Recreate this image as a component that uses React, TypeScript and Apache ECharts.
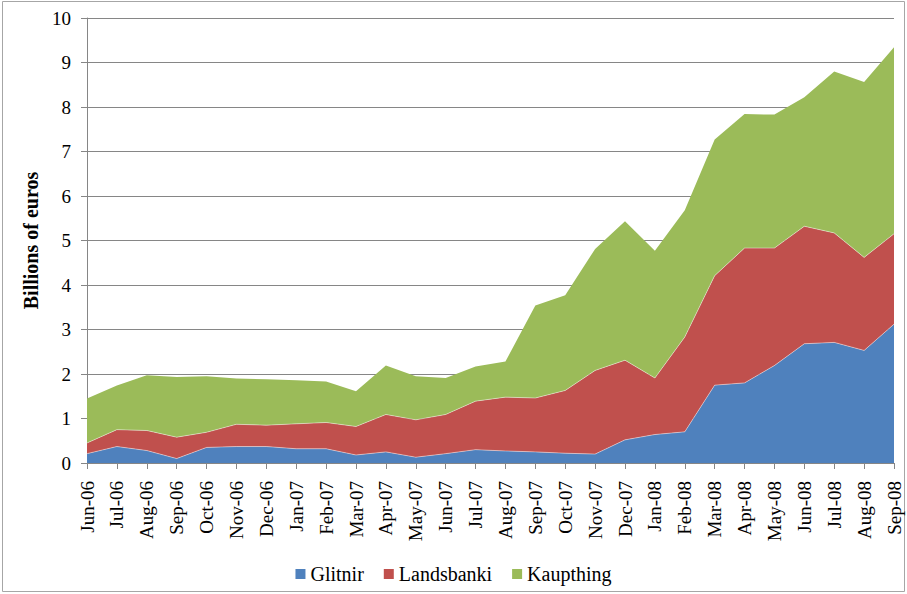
import React, { useEffect, useRef } from "react";
import * as echarts from "echarts";

const months = [
  "Jun-06", "Jul-06", "Aug-06", "Sep-06", "Oct-06", "Nov-06", "Dec-06",
  "Jan-07", "Feb-07", "Mar-07", "Apr-07", "May-07", "Jun-07", "Jul-07",
  "Aug-07", "Sep-07", "Oct-07", "Nov-07", "Dec-07", "Jan-08", "Feb-08",
  "Mar-08", "Apr-08", "May-08", "Jun-08", "Jul-08", "Aug-08", "Sep-08",
];

const glitnir = [
  0.21, 0.37, 0.28, 0.10, 0.35, 0.37, 0.37, 0.32, 0.32, 0.18, 0.25, 0.13, 0.21, 0.30,
  0.27, 0.25, 0.22, 0.20, 0.52, 0.64, 0.70, 1.75, 1.80, 2.19, 2.68, 2.71, 2.53, 3.12,
];

const landsbanki = [
  0.24, 0.38, 0.45, 0.48, 0.34, 0.50, 0.48, 0.56, 0.59, 0.64, 0.84, 0.84, 0.88, 1.09,
  1.21, 1.21, 1.41, 1.88, 1.79, 1.27, 2.13, 2.46, 3.03, 2.64, 2.64, 2.46, 2.09, 2.03,
];

const kaupthing = [
  1.00, 0.99, 1.24, 1.35, 1.26, 1.03, 1.03, 0.98, 0.92, 0.79, 1.10, 0.98, 0.82, 0.78,
  0.80, 2.08, 2.14, 2.73, 3.12, 2.86, 2.85, 3.06, 3.01, 3.00, 2.90, 3.63, 3.94, 4.19,
];

const seriesNames = ["Glitnir", "Landsbanki", "Kaupthing"];
const colors = ["#4F81BD", "#C0504D", "#9BBB59"];

const FONT = "'Liberation Serif', 'Times New Roman', serif";

export default function App() {
  const ref = useRef<HTMLDivElement>(null);

  useEffect(() => {
    if (!ref.current) return;
    const chart = echarts.init(ref.current, null, { renderer: "svg" });
    const datasets = [glitnir, landsbanki, kaupthing];
    chart.setOption({
      animation: false,
      textStyle: { fontFamily: FONT },
      grid: { left: 87, right: 13, top: 18, bottom: 131 },
      graphic: [
        {
          type: "rect",
          shape: { x: 2.5, y: 1.5, width: 902, height: 590 },
          style: { fill: "none", stroke: "#a6a6a6", lineWidth: 1 },
          silent: true,
        },
      ],
      legend: {
        data: seriesNames,
        left: "center",
        top: 559,
        icon: "rect",
        itemWidth: 10,
        itemHeight: 10,
        itemGap: 20,
        textStyle: { fontFamily: FONT, fontSize: 20, color: "#000" },
      },
      xAxis: {
        type: "category",
        data: months,
        boundaryGap: false,
        axisLine: { lineStyle: { color: "#868686", width: 1 } },
        axisTick: { show: true, length: 6, lineStyle: { color: "#868686" } },
        axisLabel: {
          rotate: 90,
          interval: 0,
          margin: 18,
          fontFamily: FONT,
          fontSize: 19,
          color: "#000",
        },
      },
      yAxis: {
        type: "value",
        min: 0,
        max: 10,
        interval: 1,
        name: "Billions of euros",
        nameLocation: "middle",
        nameRotate: 90,
        nameGap: 46,
        nameTextStyle: { fontFamily: FONT, fontSize: 20, fontWeight: "bold", color: "#000" },
        axisLine: { show: true, lineStyle: { color: "#868686", width: 1 } },
        axisTick: { show: true, length: 6, lineStyle: { color: "#868686" } },
        axisLabel: { margin: 16, fontFamily: FONT, fontSize: 19, color: "#000" },
        splitLine: { show: true, lineStyle: { color: "#868686", width: 1 } },
      },
      series: seriesNames.map((name, i) => ({
        name,
        type: "line",
        stack: "total",
        data: datasets[i],
        symbol: "none",
        itemStyle: { color: colors[i] },
        lineStyle: {
          width: i < 2 ? 0.8 : 0,
          color: "rgba(255,255,255,0.55)",
        },
        areaStyle: { color: colors[i], opacity: 1 },
        z: 2,
      })),
    });
    return () => chart.dispose();
  }, []);

  return (
    <div
      ref={ref}
      style={{ position: "absolute", left: 0, top: 0, width: 907, height: 594, background: "#fff" }}
    />
  );
}
